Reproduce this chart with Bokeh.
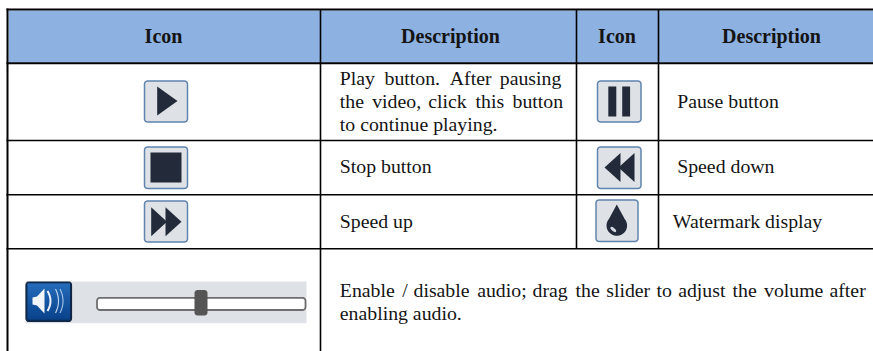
import numpy as np
from bokeh.plotting import figure
from bokeh.models import Range1d
from bokeh.core.properties import value
from bokeh.embed import file_html
from bokeh.resources import INLINE

# ---- table content ----
headers = ["Icon", "Description", "Icon", "Description"]
icons = ["play", "pause", "stop", "speed down", "speed up", "watermark", "audio"]
line_play_1 = ["Play", "button.", "After", "pausing"]
line_play_2 = ["the", "video,", "click", "this", "button"]
line_play_3 = ["to continue playing."]
label_pause = "Pause button"
label_stop = "Stop button"
label_down = "Speed down"
label_up = "Speed up"
label_mark = "Watermark display"
line_audio_1 = ["Enable", "/", "disable", "audio;", "drag", "the", "slider", "to", "adjust", "the", "volume", "after"]
line_audio_2 = ["enabling audio."]

# ---- layout (page pixels) ----
W, H = 873, 351
FONT = "Liberation Serif"
INK = "#141414"
HEAD = "#8DB1E1"
BTN = "#DEE1E6"
EDGE = "#5F84AE"
DARK = "#232B3B"

p = figure(width=W, height=H, output_backend="svg", toolbar_location=None,
           x_range=Range1d(0, W), y_range=Range1d(H, 0), min_border=0)
p.axis.visible = False
p.grid.visible = False
p.outline_line_color = None
p.background_fill_color = "white"
p.border_fill_color = "white"


def rrect(x0, y0, x1, y1, r, n=6):
    xs, ys = [], []
    for cx, cy, a0 in [(x1 - r, y0 + r, -90), (x1 - r, y1 - r, 0), (x0 + r, y1 - r, 90), (x0 + r, y0 + r, 180)]:
        t = np.radians(np.linspace(a0, a0 + 90, n))
        xs += list(cx + r * np.cos(t))
        ys += list(cy + r * np.sin(t))
    return xs, ys


def box(x0, y0, x1, y1, r, fill, line=None, lw=1.5):
    xs, ys = rrect(x0, y0, x1, y1, r)
    p.patch(xs, ys, fill_color=fill, line_color=line, line_width=lw)


def poly(xs, ys, fill=DARK):
    p.patch(xs, ys, fill_color=fill, line_color=None)


def txt(x, y, s, size=19.8, bold=False, align="left", dy=-1.5):
    p.text([x], [y + dy], text=[s], text_font=value(FONT), text_font_size=f"{size}px",
           text_font_style="bold" if bold else "normal", text_color=INK,
           text_align=align, text_baseline="middle")


# header band
p.quad(left=[8], right=[W], top=[10], bottom=[62], fill_color=HEAD, line_color=None)

# rules
for y, w in [(9, 2), (62.7, 2), (140, 1.6), (194.2, 1.6), (248.2, 1.6)]:
    p.line([6, W], [y, y], line_color="black", line_width=w)
p.line([7, 7], [8, H], line_color="black", line_width=2)
p.line([320, 320], [9, H], line_color="black", line_width=1.6)
for x in (576, 658):
    p.line([x, x], [9, 248], line_color="black", line_width=1.6)

# header text
for cx, s in zip((163, 450, 616.5, 771), headers):
    txt(cx, 35.5, s, size=20, bold=True, align="center", dy=-0.5)

# buttons
for x0, y0, x1, y1 in [(144, 80.5, 187, 121.5), (597, 80.5, 640.5, 121.5),
                       (144, 146.5, 187, 188), (597, 146.5, 640.5, 188),
                       (144, 200.5, 187, 241.5), (595.5, 199.5, 637.5, 241)]:
    box(x0, y0, x1, y1, 3, BTN, EDGE)

# play
poly([156.7, 177, 156.7], [86, 100.5, 115])
# pause
poly([607.8, 615.8, 615.8, 607.8], [86, 86, 116, 116])
poly([621.7, 629.6, 629.6, 621.7], [86, 86, 116, 116])
# stop
poly([150, 181, 181, 150], [152, 152, 182, 182])
# speed down
poly([604, 620, 620], [167, 152.5, 181.5])
poly([618, 634, 634], [167, 152.5, 181.5])
# speed up
poly([150.7, 166.5, 150.7], [206.7, 221.2, 235.7])
poly([165, 181, 165], [206.7, 221.2, 235.7])
# watermark drop
t = np.radians(np.linspace(-40, 220, 30))
dx = [616.3] + list(616.3 + 10.3 * np.cos(t)) + [616.3]
dy = [204] + list(225 + 10.3 * np.sin(t)) + [204]
poly(dx, dy)
p.ellipse([612.8], [229], width=7, height=3, angle=[-0.7], fill_color="#D5DAE2", line_color=None)

# audio strip
p.quad(left=[25], right=[306], top=[281], bottom=[322.7], fill_color=BTN, line_color=None)
# audio button with vertical gradient
box(25.5, 281.5, 71, 321, 3, "#0B2A55", "#14263F", 1.2)
for i in range(36):
    a = i / 35
    c = "#%02x%02x%02x" % (int(46 + (10 - 46) * a), int(130 + (76 - 130) * a), int(220 + (158 - 220) * a))
    p.quad(left=[27], right=[69.5], top=[283 + i], bottom=[284 + i], fill_color=c, line_color=None)
# speaker
poly([32, 36.5, 44, 44, 36.5, 32], [297, 296, 288, 313, 305, 304], fill="#F2F6FB")
for cx, half, lw, col in [(47, 10, 2.0, "#EAF1FA"), (55, 12, 1.2, "#B9D2EE"), (59.5, 12, 1.1, "#A9C7EA")]:
    t = np.linspace(-1, 1, 15)
    p.line(cx + 3 * (1 - t ** 2), 300.5 + half * t, line_color=col, line_width=lw)
# slider
box(96.5, 297.3, 305, 309.5, 3, "white", "#6E6E6E", 1.8)
box(194, 289.5, 207, 315, 3, "#555555", None)

# body text
for x, s in zip((339.3, 384, 449.3, 499.3), line_play_1):
    txt(x, 79, s)
for x, s in zip((339.3, 371.7, 427.7, 475, 512), line_play_2):
    txt(x, 102, s)
txt(339.3, 125, line_play_3[0])
txt(676.7, 102, label_pause)
txt(339.3, 167, label_stop)
txt(676.7, 167, label_down)
txt(339.3, 222, label_up)
txt(672.3, 222, label_mark)
for x, s in zip((339.3, 401.7, 413, 476.7, 532, 575, 605.7, 656, 677.7, 732, 763.5, 829), line_audio_1):
    txt(x, 291, s)
txt(339.3, 314, line_audio_2[0])

open("out.html", "w").write(file_html(p, INLINE))
